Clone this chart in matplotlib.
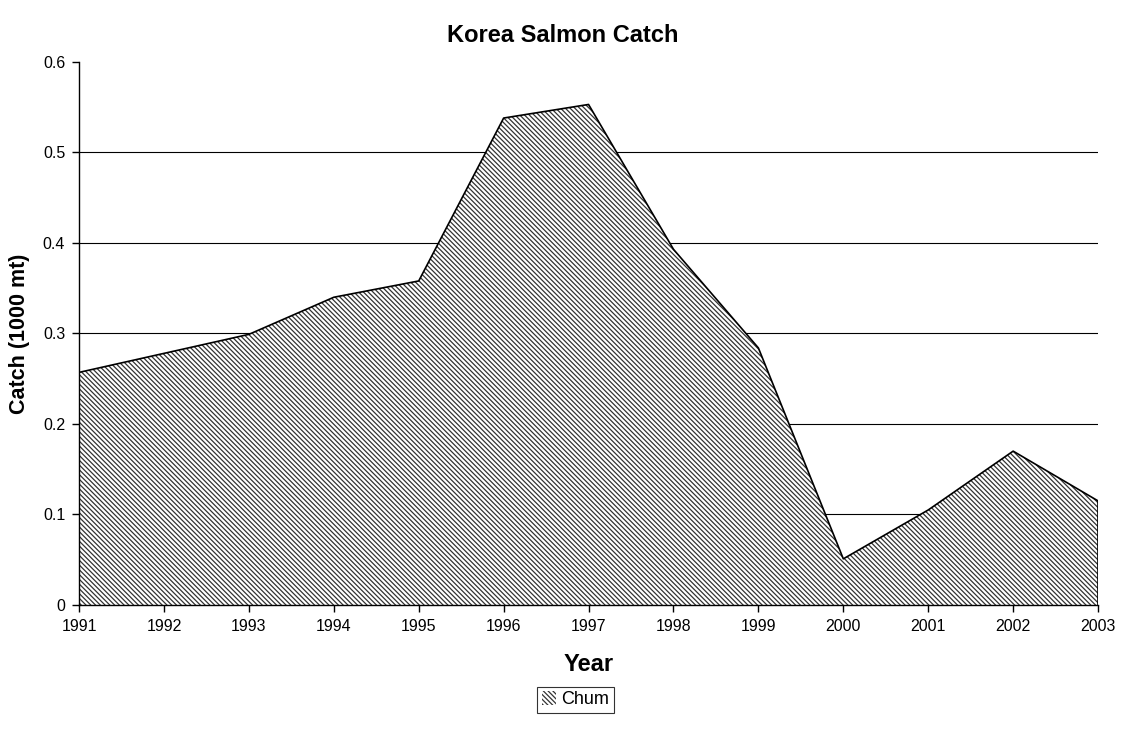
import matplotlib
matplotlib.use("Agg")
import matplotlib.pyplot as plt

years = [1991, 1992, 1993, 1994, 1995, 1996, 1997, 1998, 1999, 2000, 2001, 2002, 2003]
chum = [0.257, 0.278, 0.299, 0.340, 0.358, 0.538, 0.553, 0.393, 0.284, 0.051, 0.105, 0.170, 0.115]
yticks = [0, 0.1, 0.2, 0.3, 0.4, 0.5, 0.6]
ytick_labels = ["0", "0.1", "0.2", "0.3", "0.4", "0.5", "0.6"]

plt.rcParams['font.family'] = ['Liberation Sans', 'DejaVu Sans']
plt.rcParams['hatch.linewidth'] = 0.9

fig = plt.figure(figsize=(11.26, 7.46), dpi=100)
ax = fig.add_axes([0.0702, 0.189, 0.905, 0.728])

for y in yticks[1:-1]:
    ax.axhline(y, color='black', lw=0.8, zorder=1)

ax.fill_between(years, chum, 0, facecolor='white', edgecolor='#333333',
                hatch='\\' * 7, linewidth=0, zorder=2, label='Chum')
ax.plot(years, chum, color='black', lw=1.2, zorder=3)
ax.plot([years[-1], years[-1]], [0, chum[-1]], color='black', lw=1.2, zorder=3)

ax.set_xlim(years[0], years[-1])
ax.set_ylim(0, 0.6)
ax.set_xticks(years)
ax.set_xticklabels([str(y) for y in years], fontsize=11.5)
ax.set_yticks(yticks)
ax.set_yticklabels(ytick_labels, fontsize=11.5)
ax.tick_params(direction='out', length=5, width=1, colors='black', pad=5)
ax.spines['top'].set_visible(False)
ax.spines['right'].set_visible(False)
ax.spines['left'].set_linewidth(1)
ax.spines['bottom'].set_linewidth(1)

ax.set_xlabel('Year', fontsize=17, fontweight='bold', labelpad=14)
ax.set_ylabel('Catch (1000 mt)', fontsize=15.5, fontweight='bold', labelpad=9)
fig.suptitle('Korea Salmon Catch', fontsize=17, fontweight='bold', y=0.968)

leg = fig.legend(loc='center', bbox_to_anchor=(0.511, 0.062), fontsize=13,
                 frameon=True, fancybox=False, edgecolor='black',
                 handlelength=0.8, handleheight=0.8, handletextpad=0.3,
                 borderpad=0.25, borderaxespad=0)
leg.get_frame().set_linewidth(0.8)

fig.savefig('out.png', dpi=100)
